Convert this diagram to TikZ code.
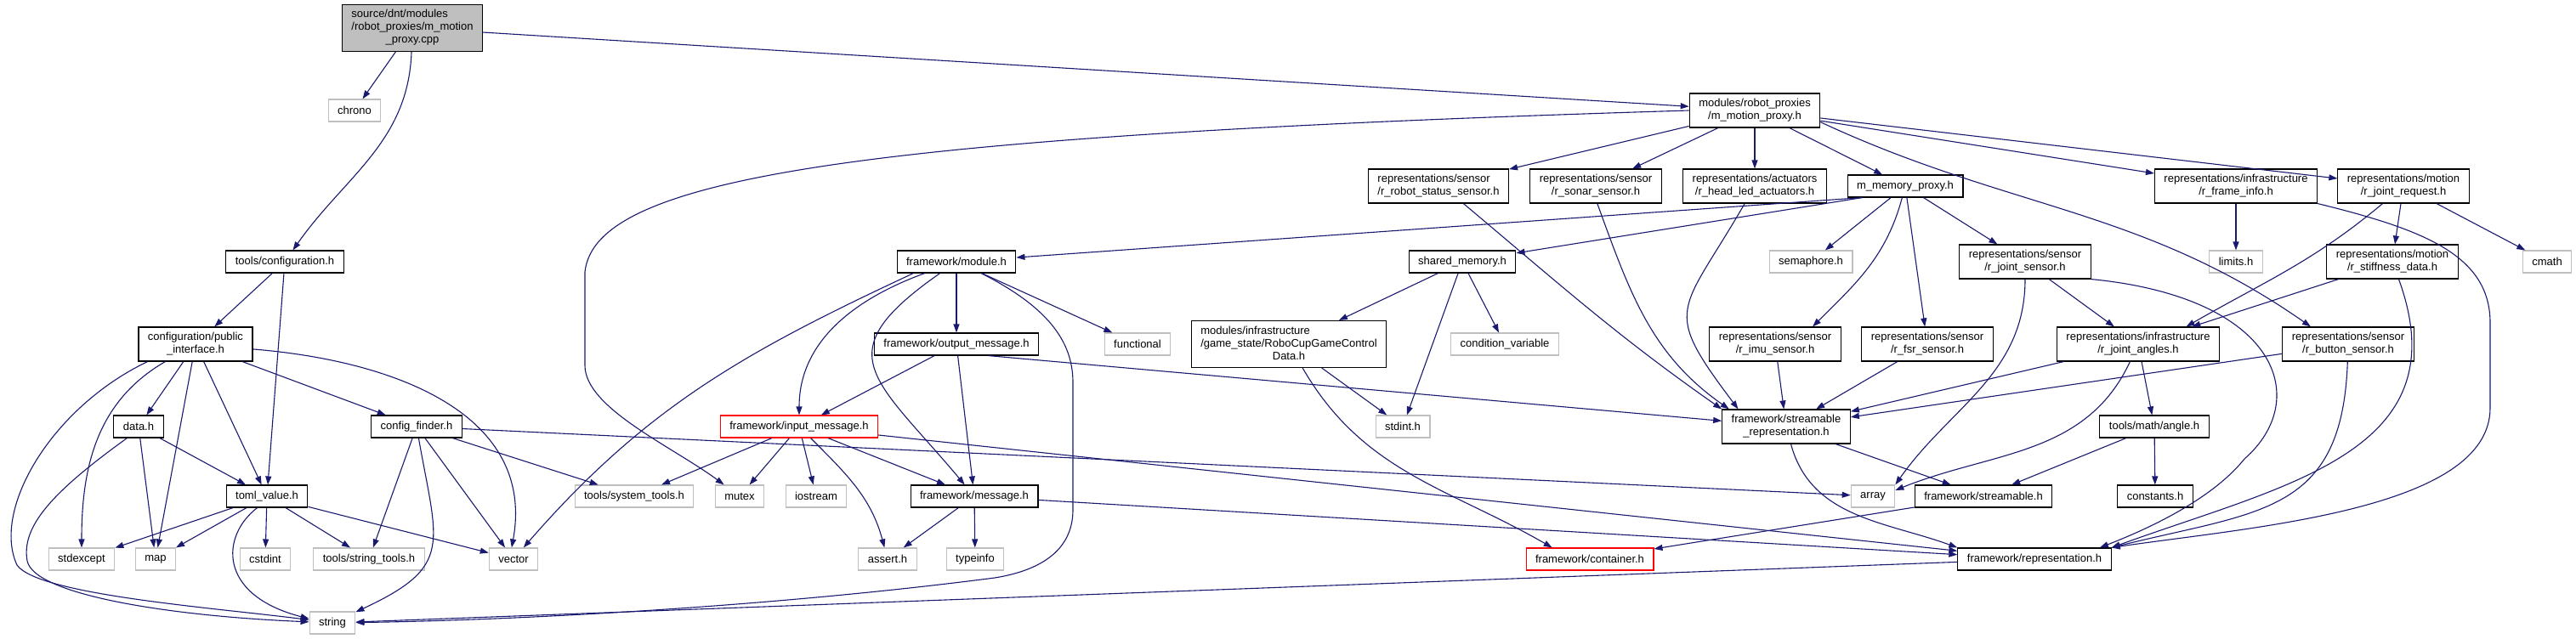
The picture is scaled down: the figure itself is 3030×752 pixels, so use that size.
\documentclass[tikz,border=0pt]{standalone}
\usepackage{fontspec}
\setmainfont{Liberation Sans}
\usetikzlibrary{arrows.meta}
\definecolor{dxedge}{RGB}{25,25,112}
\definecolor{dxgray}{RGB}{191,191,191}
\definecolor{dxred}{RGB}{255,0,0}
%% label: all lines but the last left aligned, last one centred
\newcommand{\dxlbl}[2]{\begin{tabular}{@{}l@{}}#1\\\multicolumn{1}{@{}c@{}}{#2}\end{tabular}}

\begin{document}
\begin{tikzpicture}[x=1pt, y=-1pt,
  every node/.style={font=\fontsize{13}{15}\selectfont},
  file/.style={draw=black, fill=white, line width=1.1pt, inner xsep=11pt,
               inner ysep=5pt, minimum height=26pt},
  sysfile/.style={file, draw=dxgray},
  missfile/.style={file, draw=dxred},
  rootfile/.style={file, fill=dxgray},
  dep/.style={-{Triangle[length=10pt,width=7pt]}, dxedge, line width=1.1pt}
]
  \useasboundingbox (0,0) rectangle (3030,752);

  %% left part
  \node[rootfile] (main) at (485,33) {\dxlbl{source/dnt/modules\\/robot\_proxies/m\_motion}{\_proxy.cpp}};
  \node[sysfile] (chrono)   at (417,130) {chrono};
  \node[file]    (tconf)    at (335,308) {tools/configuration.h};
  \node[file]    (pubif)    at (230,405) {\dxlbl{configuration/public}{\_interface.h}};
  \node[file]    (datah)    at (163,502) {data.h};
  \node[file]    (cfind)    at (490,502) {config\_finder.h};
  \node[file]    (toml)     at (314,584) {toml\_value.h};
  \node[sysfile] (stdexc)   at (96,658)  {stdexcept};
  \node[sysfile] (map)      at (183,658) {map};
  \node[sysfile] (cstdint)  at (312,658) {cstdint};
  \node[sysfile] (strtools) at (434,658) {tools/string\_tools.h};
  \node[sysfile] (vector)   at (604,658) {vector};
  \node[sysfile] (string)   at (391,733) {string};
  \node[sysfile] (systools) at (746,584) {tools/system\_tools.h};
  \node[sysfile] (mutex)    at (870,584) {mutex};
  \node[sysfile] (iostream) at (960,584) {iostream};

  %% framework
  \node[file]     (module)     at (1125,308) {framework/module.h};
  \node[file]     (outmsg)     at (1125,405) {framework/output\_message.h};
  \node[sysfile]  (functional) at (1338,405) {functional};
  \node[missfile] (inmsg)      at (940,502)  {framework/input\_message.h};
  \node[file]     (message)    at (1146,584) {framework/message.h};
  \node[sysfile]  (assert)     at (1044,658) {assert.h};
  \node[sysfile]  (typeinfo)   at (1147,658) {typeinfo};
  \node[file]     (rcgcd)      at (1516,405) {\dxlbl{modules/infrastructure\\/game\_state/RoboCupGameControl}{Data.h}};

  %% proxies and representations
  \node[file]    (mmot)    at (2064,130) {\dxlbl{modules/robot\_proxies}{/m\_motion\_proxy.h}};
  \node[file]    (rrss)    at (1692,219) {\dxlbl{representations/sensor}{/r\_robot\_status\_sensor.h}};
  \node[file]    (rson)    at (1877,219) {\dxlbl{representations/sensor}{/r\_sonar\_sensor.h}};
  \node[file]    (rhla)    at (2064,219) {\dxlbl{representations/actuators}{/r\_head\_led\_actuators.h}};
  \node[file]    (mmem)    at (2241,219) {m\_memory\_proxy.h};
  \node[file]    (rfi)     at (2630,219) {\dxlbl{representations/infrastructure}{/r\_frame\_info.h}};
  \node[file]    (rjr)     at (2827,219) {\dxlbl{representations/motion}{/r\_joint\_request.h}};
  \node[file]    (shm)     at (1720,308) {shared\_memory.h};
  \node[sysfile] (sema)    at (2130,308) {semaphore.h};
  \node[file]    (rjs)     at (2382,308) {\dxlbl{representations/sensor}{/r\_joint\_sensor.h}};
  \node[sysfile] (limits)  at (2630,308) {limits.h};
  \node[file]    (rstiff)  at (2814,308) {\dxlbl{representations/motion}{/r\_stiffness\_data.h}};
  \node[sysfile] (cmath)   at (2996,308) {cmath};
  \node[sysfile] (condvar) at (1770,405) {condition\_variable};
  \node[file]    (rimu)    at (2088,405) {\dxlbl{representations/sensor}{/r\_imu\_sensor.h}};
  \node[file]    (rfsr)    at (2267,405) {\dxlbl{representations/sensor}{/r\_fsr\_sensor.h}};
  \node[file]    (rja)     at (2515,405) {\dxlbl{representations/infrastructure}{/r\_joint\_angles.h}};
  \node[file]    (rbtn)    at (2762,405) {\dxlbl{representations/sensor}{/r\_button\_sensor.h}};
  \node[sysfile] (stdint)  at (1650,502) {stdint.h};
  \node[file]    (srep)    at (2101,502) {\dxlbl{framework/streamable}{\_representation.h}};
  \node[file]    (angle)   at (2534,502) {tools/math/angle.h};
  \node[sysfile] (array)   at (2203,584) {array};
  \node[file]    (streamable) at (2333,584) {framework/streamable.h};
  \node[file]    (constants)  at (2535,584) {constants.h};
  \node[missfile] (container) at (1870,658) {framework/container.h};
  \node[file]    (repr)    at (2393,658) {framework/representation.h};

  %% straight dependencies
  \foreach \a/\b in {main/chrono, main/mmot, tconf/pubif, tconf/toml, pubif/datah, pubif/map,
      pubif/toml, pubif/cfind, datah/map, datah/toml, cfind/strtools, cfind/vector,
      cfind/systools, cfind/array, toml/stdexc, toml/map, toml/cstdint, toml/strtools,
      toml/vector, module/outmsg, module/functional, outmsg/inmsg, outmsg/message,
      inmsg/systools, inmsg/mutex, inmsg/iostream, inmsg/message, inmsg/repr,
      message/assert, message/typeinfo, message/repr, repr/string, mmot/rrss, mmot/rson,
      mmot/rhla, mmot/mmem, mmot/rfi, mmot/rjr, mmem/sema, mmem/rfsr, mmem/rjs,
      shm/rcgcd, shm/stdint, shm/condvar, rcgcd/stdint, rjr/rstiff, rjr/cmath,
      rfi/limits, rstiff/rja, rjs/rja, rja/srep, rja/angle, rbtn/srep, rimu/srep,
      rfsr/srep, srep/streamable, angle/streamable, angle/constants, streamable/container}
    \draw[dep] (\a) -- (\b);
  \draw[dep] (outmsg.-20) -- (srep);
  \draw[dep] (mmem.-165) -- (module);
  \draw[dep] (mmem.-165) -- (shm);

  %% curved dependencies
  \draw[dep] (main) to[out=-92,in=55] (tconf);
  \draw[dep] (pubif.-5) .. controls (470,425) and (630,490) .. (vector.99);
  \draw[dep] (pubif) to[out=-150,in=90] (stdexc);
  \draw[dep] (pubif.-160) .. controls (60,480) and (-10,600) .. (20,665)
                          .. controls (45,700) and (250,715) .. (string);
  \draw[dep] (datah.-135) .. controls (60,580) and (25,620) .. (32,660)
                          .. controls (40,700) and (200,725) .. (string);
  \draw[dep] (cfind) to[out=-80,in=25,looseness=1.5] (string);
  \draw[dep] (toml.-130) .. controls (260,630) and (255,700) .. (string.170);
  \draw[dep] (module.-165) to[out=-155,in=49] (vector);
  \draw[dep] (module) to[out=-160,in=90] (inmsg);
  \draw[dep] (module) to[out=-145,in=130,looseness=1.7] (message);
  \draw[dep] (module.-25) .. controls (1230,360) and (1262,400) .. (1262,450) -- (1262,600)
                          .. controls (1262,650) and (1220,672) .. (1170,680)
                          .. controls (900,715) and (600,730) .. (string);
  \draw[dep] (inmsg) to[out=-45,in=105] (assert);
  \draw[dep] (mmot.west) .. controls (1000,160) and (700,210) .. (688,320) -- (688,430)
                         .. controls (688,480) and (790,525) .. (mutex);
  \draw[dep] (mmot.-10) to[out=-25,in=145] (rbtn.155);
  \draw[dep] (mmem) to[out=-105,in=45] (rimu.25);
  \draw[dep] (rcgcd) to[out=-60,in=150] (container.163);
  \draw[dep] (rrss.-35) to[out=-40,in=145] (srep.north west);
  \draw[dep] (rson.-85) to[out=-70,in=145] (srep.163);
  \draw[dep] (rhla) to[out=-120,in=127,looseness=1.6] (srep.160);
  \draw[dep] (rjr.-140) to[out=-140,in=30] (rja.20);
  \draw[dep] (rjs) to[out=-90,in=55] (array.north east);
  \draw[dep] (rja) to[out=-115,in=22] (array.15);
  \draw[dep] (srep) to[out=-75,in=160] (repr.north west);
  \draw[dep] (rstiff) to[out=-70,in=20,looseness=1.2] (repr.north east);
  \draw[dep] (rbtn) to[out=-92,in=14,looseness=1.3] (repr.north east);
  \draw[dep] (rfi.south east) .. controls (2850,270) and (2929,300) .. (2929,380) -- (2929,480)
                              .. controls (2929,600) and (2650,620) .. (repr.north east);
  \draw[dep] (rjs.south east) .. controls (2680,350) and (2720,470) .. (2640,540)
                              .. controls (2600,590) and (2520,625) .. (repr.10);
\end{tikzpicture}
\end{document}
